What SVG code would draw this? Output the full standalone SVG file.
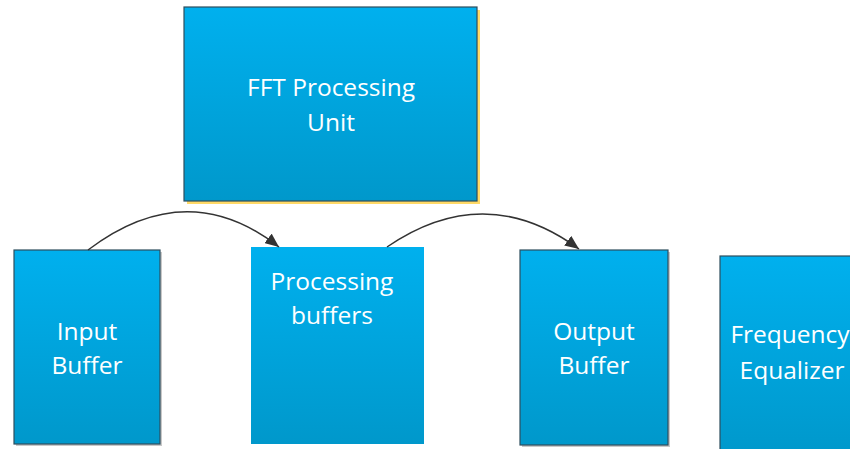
<svg xmlns="http://www.w3.org/2000/svg" width="850" height="449" viewBox="0 0 850 449">
  <defs>
    <linearGradient id="boxFill" x1="0" y1="0" x2="0" y2="1">
      <stop offset="0" stop-color="#00b0ee"/>
      <stop offset="1" stop-color="#0098cb"/>
    </linearGradient>
    <marker id="arrow" viewBox="0 0 14 12" refX="14" refY="6" markerWidth="14" markerHeight="12" markerUnits="userSpaceOnUse" orient="auto">
      <path d="M0,0 L14,6 L0,12 z" fill="#333"/>
    </marker>
    <style>
      .box { fill: url(#boxFill); stroke: #2e4e5e; stroke-width: 1.2; }
      .plain { fill: url(#boxFill); stroke: none; }
      .shadow { fill: #c8c8c8; }
      .yshadow { fill: #ffd966; }
      .label { font-family: "Open Sans", "Liberation Sans", sans-serif; font-size: 24.5px; fill: #ffffff; text-anchor: middle; }
      .conn { fill: none; stroke: #333; stroke-width: 1.5; }
    </style>
  </defs>

  <rect width="850" height="449" fill="#ffffff"/>

  <g id="fft-unit">
    <rect class="yshadow" x="187" y="10" width="293" height="194"/>
    <rect class="box" x="184" y="7" width="293" height="194"/>
    <text class="label" x="331" y="96">FFT Processing</text>
    <text class="label" x="331" y="131">Unit</text>
  </g>

  <g id="input-buffer">
    <rect class="shadow" x="16" y="252" width="146" height="194"/>
    <rect class="box" x="14" y="250" width="146" height="194"/>
    <text class="label" x="87" y="340">Input</text>
    <text class="label" x="87" y="374">Buffer</text>
  </g>

  <g id="processing-buffers">
    <rect class="plain" x="251" y="247" width="173" height="197"/>
    <text class="label" x="332" y="290">Processing</text>
    <text class="label" x="332" y="324">buffers</text>
  </g>

  <g id="output-buffer">
    <rect class="shadow" x="522" y="252" width="148" height="195"/>
    <rect class="box" x="520" y="250" width="148" height="195"/>
    <text class="label" x="594" y="340">Output</text>
    <text class="label" x="594" y="374">Buffer</text>
  </g>

  <g id="frequency-equalizer">
    <rect class="box" x="720" y="256" width="140" height="200"/>
    <text class="label" x="790" y="343">Frequency</text>
    <text class="label" x="792" y="379">Equalizer</text>
  </g>

  <g id="connectors">
    <path class="conn" d="M88,250 Q187,175 279,247" marker-end="url(#arrow)"/>
    <path class="conn" d="M387,247 Q485,180 579,249" marker-end="url(#arrow)"/>
  </g>
</svg>
